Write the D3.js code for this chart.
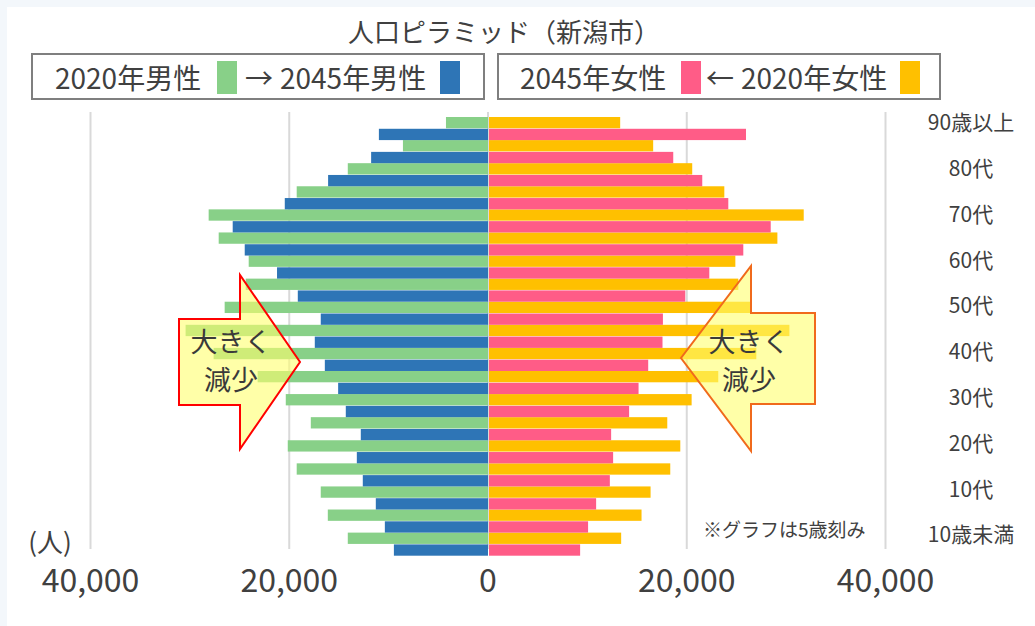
<!DOCTYPE html>
<html>
<head>
<meta charset="utf-8">
<script src="https://cdn.jsdelivr.net/npm/d3@7"></script>
<style>
  html, body { margin: 0; padding: 0; background: #f3f7fb; }
  svg { display: block; font-family: "Noto Sans CJK JP", "Noto Sans", sans-serif; }
</style>
</head>
<body>
<div id="chart"></div>
<script>
// age groups, top to bottom (5-year steps)
const ageGroups = ["90+", "85-89", "80-84", "75-79", "70-74", "65-69", "60-64", "55-59", "50-54",
  "45-49", "40-44", "35-39", "30-34", "25-29", "20-24", "15-19", "10-14", "5-9", "0-4"]

const male2020 = [4230, 8560, 14110, 19250, 28110, 27100, 24080, 24380, 26500,
  30430, 27610, 23180, 20350, 17830, 20150, 19250, 16830, 16120, 14110]
const male2045 = [10980, 11760, 16090, 20450, 25690, 24480, 21230, 19140, 16830,
  17430, 16420, 15080, 14310, 12800, 13200, 12600, 11290, 10380, 9470]
const female2020 = [13200, 16520, 20450, 23680, 31670, 29020, 24790, 25090, 26300,
  30230, 26900, 23070, 20390, 17940, 19250, 18240, 16260, 15350, 13300]
const female2045 = [25860, 18540, 21460, 24080, 28350, 25590, 22170, 19750, 17500,
  17460, 16020, 15050, 14100, 12290, 12490, 12160, 10780, 9970, 9170]

const ageLabels = ["90歳以上", "80代", "70代", "60代", "50代", "40代", "30代", "20代", "10代", "10歳未満"]
const xTicks = [-40000, -20000, 0, 20000, 40000]

const colors = { m2020: "#88d088", m2045: "#2e75b6", f2045: "#ff5c87", f2020: "#ffc000" }
const textColor = "#404040"

const width = 1035
const height = 626

const svg = d3.select("#chart")
  .append("svg")
  .attr("width", width)
  .attr("height", height)

svg.append("rect")
  .attr("x", 7).attr("y", 7)
  .attr("width", width - 7).attr("height", height - 7)
  .attr("fill", "#ffffff")

const x = d3.scaleLinear()
  .domain([-40000, 40000])
  .range([90.5, 885.5])

const y = d3.scaleBand()
  .domain(ageGroups)
  .range([117, 555.7])

const sub = d3.scaleBand()
  .domain(["2020", "2045"])
  .range([0, y.bandwidth()])
  .paddingInner(0.04)

// grid lines
svg.append("g")
  .selectAll("line")
  .data(xTicks)
  .join("line")
  .attr("x1", (d) => x(d))
  .attr("x2", (d) => x(d))
  .attr("y1", 112)
  .attr("y2", 549)
  .attr("stroke", "#d9d9d9")
  .attr("stroke-width", 2)

// bars
const rows = ageGroups.map((age, i) => ({
  age, m2020: male2020[i], m2045: male2045[i], f2020: female2020[i], f2045: female2045[i],
}))

const series = [
  { key: "m2020", year: "2020", side: -1 },
  { key: "m2045", year: "2045", side: -1 },
  { key: "f2020", year: "2020", side: 1 },
  { key: "f2045", year: "2045", side: 1 },
]

series.forEach(({ key, year, side }) => {
  svg.append("g")
    .selectAll("rect")
    .data(rows)
    .join("rect")
    .attr("x", (d) => side < 0 ? x(-d[key]) : x(0) + 1)
    .attr("y", (d) => y(d.age) + sub(year))
    .attr("width", (d) => x(d[key]) - x(0))
    .attr("height", sub.bandwidth())
    .attr("fill", colors[key])
})

// x axis labels
svg.append("g")
  .selectAll("text")
  .data(xTicks)
  .join("text")
  .attr("x", (d) => x(d))
  .attr("y", 592)
  .attr("text-anchor", "middle")
  .attr("font-size", 32)
  .attr("fill", textColor)
  .text((d) => d3.format(",")(Math.abs(d)))

svg.append("text")
  .attr("x", 50).attr("y", 552)
  .attr("text-anchor", "middle")
  .attr("font-size", 26)
  .attr("fill", textColor)
  .text("(人)")

// age labels on the right
const yLabel = d3.scalePoint()
  .domain(ageLabels)
  .range([123, 535])

svg.append("g")
  .selectAll("text")
  .data(ageLabels)
  .join("text")
  .attr("x", 971)
  .attr("y", (d) => yLabel(d))
  .attr("dy", "0.35em")
  .attr("text-anchor", "middle")
  .attr("font-size", 21)
  .attr("fill", textColor)
  .text((d) => d)

svg.append("text")
  .attr("x", 703).attr("y", 537)
  .attr("font-size", 19)
  .attr("fill", textColor)
  .text("※グラフは5歳刻み")

// title
svg.append("text")
  .attr("x", 504).attr("y", 42)
  .attr("text-anchor", "middle")
  .attr("font-size", 26)
  .attr("fill", textColor)
  .text("人口ピラミッド（新潟市）")

// legend boxes
const legendBoxes = [
  { x: 32, w: 452, items: [
    { text: "2020年男性", x: 55 }, { swatch: colors.m2020, x: 217 },
    { text: "→", x: 245 }, { text: "2045年男性", x: 280 }, { swatch: colors.m2045, x: 440 },
  ] },
  { x: 498, w: 442, items: [
    { text: "2045年女性", x: 520 }, { swatch: colors.f2045, x: 681 },
    { text: "←", x: 706 }, { text: "2020年女性", x: 741 }, { swatch: colors.f2020, x: 900 },
  ] },
]

legendBoxes.forEach((box) => {
  svg.append("rect")
    .attr("x", box.x).attr("y", 54)
    .attr("width", box.w).attr("height", 45)
    .attr("fill", "#ffffff")
    .attr("stroke", "#7f7f7f")
    .attr("stroke-width", 2)

  box.items.forEach((item) => {
    if (item.swatch) {
      svg.append("rect")
        .attr("x", item.x).attr("y", 61)
        .attr("width", 20).attr("height", 33)
        .attr("fill", item.swatch)
    } else {
      svg.append("text")
        .attr("x", item.x).attr("y", 89)
        .attr("font-size", 28)
        .attr("fill", textColor)
        .text(item.text)
    }
  })
})

// "大きく減少" arrows
function drawArrow(points, stroke, cx) {
  svg.append("path")
    .attr("d", d3.line()(points) + "Z")
    .attr("fill", "rgba(255, 255, 110, 0.6)")
    .attr("stroke", stroke)
    .attr("stroke-width", 2)
    .attr("stroke-linejoin", "miter")

  ;[["大きく", 352], ["減少", 390]].forEach(([t, ty]) => {
    svg.append("text")
      .attr("x", cx).attr("y", ty)
      .attr("text-anchor", "middle")
      .attr("font-size", 27)
      .attr("fill", "#3a3a3a")
      .text(t)
  })
}

drawArrow([[179, 319], [240, 319], [240, 275], [300, 362], [240, 449], [240, 405], [179, 405]], "#ff0000", 231)
drawArrow([[815, 313], [751, 313], [751, 266], [681, 358], [751, 451], [751, 404], [815, 404]], "#f06a1c", 749)
</script>
</body>
</html>
